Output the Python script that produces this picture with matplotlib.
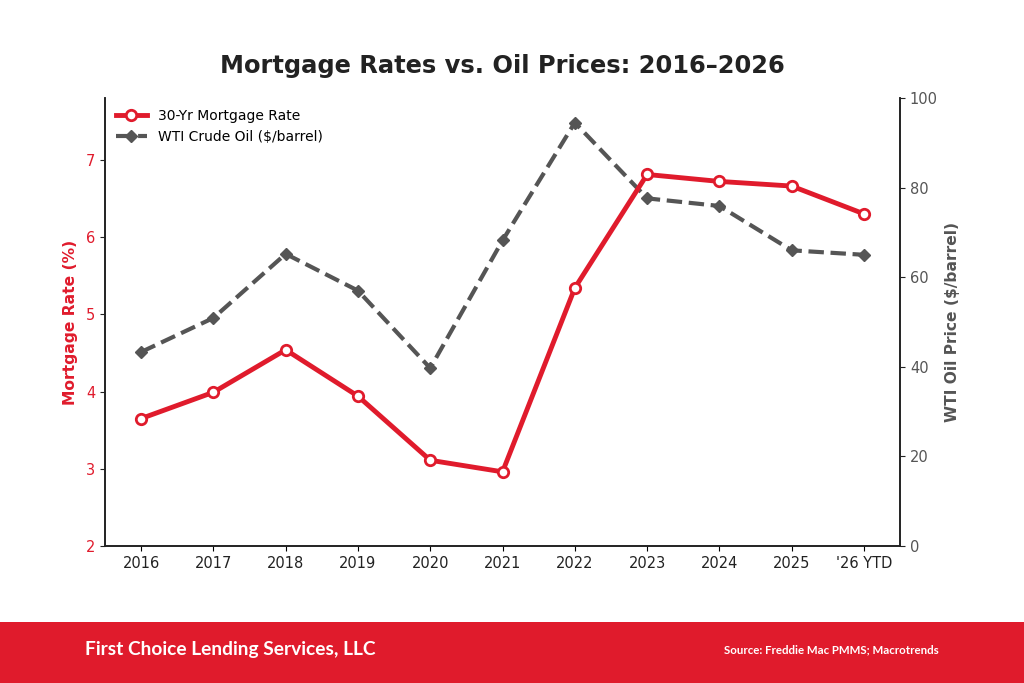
import matplotlib
matplotlib.use("Agg")
import matplotlib.pyplot as plt
from matplotlib.patches import Rectangle

plt.rcParams["font.family"] = ["DejaVu Sans"]

years = ["2016", "2017", "2018", "2019", "2020", "2021", "2022", "2023", "2024", "2025", "'26 YTD"]
mortgage = [3.65, 3.99, 4.54, 3.94, 3.11, 2.96, 5.34, 6.81, 6.72, 6.66, 6.30]
oil = [43.3, 50.9, 65.2, 57.0, 39.7, 68.2, 94.5, 77.6, 75.9, 66.0, 65.0]

RED = "#E01B2C"
GRAY = "#555555"

fig = plt.figure(figsize=(10.24, 6.83), dpi=100)
ax = fig.add_axes([0.1025, 0.2006, 0.7765, 0.6559])
ax2 = ax.twinx()

x = list(range(len(years)))
l1, = ax.plot(x, mortgage, color=RED, lw=3.5, marker="o", ms=7.5,
              markerfacecolor="white", markeredgecolor=RED, markeredgewidth=2,
              label="30-Yr Mortgage Rate", zorder=3)
l2, = ax2.plot(x, oil, color=GRAY, lw=3, ls="--", marker="D", ms=6,
               markerfacecolor=GRAY, markeredgecolor=GRAY,
               label="WTI Crude Oil ($/barrel)", zorder=2)
ax.set_zorder(ax2.get_zorder() + 1)
ax.patch.set_visible(False)

ax.set_xlim(-0.5, 10.5)
ax.set_ylim(2, 7.8)
ax2.set_ylim(0, 100)
ax.set_xticks(x)
ax.set_xticklabels(years, fontsize=10.5, color="#222222")
ax.set_yticks([2, 3, 4, 5, 6, 7])
ax2.set_yticks([0, 20, 40, 60, 80, 100])
ax.tick_params(axis="y", colors="#222222", labelcolor=RED, labelsize=10.5)
ax2.tick_params(axis="y", colors="#222222", labelcolor=GRAY, labelsize=10.5)
ax.tick_params(axis="x", labelsize=10.5)

ax.set_ylabel("Mortgage Rate (%)", color=RED, fontsize=11.2, fontweight="bold", labelpad=6)
ax2.set_ylabel("WTI Oil Price ($/barrel)", color=GRAY, fontsize=11.2, fontweight="bold", labelpad=5)

for a in (ax, ax2):
    a.spines["top"].set_visible(False)
    for s in ("left", "right", "bottom"):
        a.spines[s].set_color("#222222")
        a.spines[s].set_linewidth(1.2)

ax.legend(handles=[l1, l2], loc="upper left", frameon=False, fontsize=10,
          handlelength=2.2, borderaxespad=0.4)

ax.set_title("Mortgage Rates vs. Oil Prices: 2016–2026", fontsize=17.4,
             fontweight="bold", color="#222222", pad=18)

fig.patches.append(Rectangle((0, 0), 1, 61 / 683, transform=fig.transFigure,
                             facecolor=RED, edgecolor="none", zorder=0))
fig.text(0.083, 0.0487, "First Choice Lending Services, LLC", ha="left", va="center",
         fontsize=13.8, fontweight="bold", color="white", family="Lato")
fig.text(0.917, 0.0487, "Source: Freddie Mac PMMS; Macrotrends", ha="right", va="center",
         fontsize=8.3, fontweight="bold", color="white", family="Lato")

fig.savefig("out.png", dpi=100)
